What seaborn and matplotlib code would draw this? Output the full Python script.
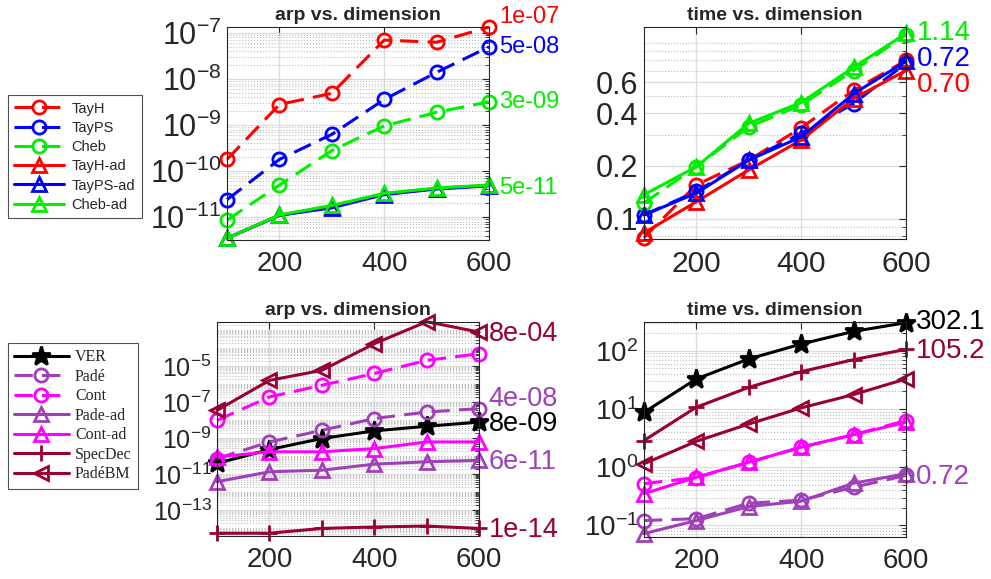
import numpy as np
import matplotlib
matplotlib.use("Agg")
import matplotlib.pyplot as plt
import matplotlib.ticker as mticker
import seaborn as sns

# -------------------------------------------------------
# data
# -------------------------------------------------------

dims = [100, 200, 300, 400, 500, 600]

# top row: Taylor / Chebyshev methods
arp_tayh = [1.8e-10, 2.8e-9, 4.9e-9, 7.0e-8, 6.3e-8, 1.35e-7]
arp_tayps = [2.4e-11, 1.8e-10, 6.3e-10, 3.6e-9, 1.4e-8, 5.0e-8]
arp_cheb = [8.7e-12, 5.0e-11, 2.8e-10, 9.6e-10, 1.9e-9, 3.2e-9]
arp_tayh_ad = [3.5e-12, 1.1e-11, 1.7e-11, 3.2e-11, 4.2e-11, 4.9e-11]
arp_tayps_ad = [3.5e-12, 1.1e-11, 1.6e-11, 3.1e-11, 4.1e-11, 4.8e-11]
arp_cheb_ad = [3.5e-12, 1.12e-11, 1.8e-11, 3.3e-11, 4.3e-11, 5.0e-11]

time_tayh = [0.078, 0.156, 0.216, 0.33, 0.54, 0.80]
time_tayps = [0.105, 0.143, 0.216, 0.307, 0.454, 0.77]
time_cheb = [0.123, 0.198, 0.334, 0.445, 0.70, 1.12]
time_tayh_ad = [0.083, 0.125, 0.19, 0.281, 0.485, 0.70]
time_tayps_ad = [0.105, 0.14, 0.216, 0.293, 0.516, 0.79]
time_cheb_ad = [0.137, 0.198, 0.35, 0.46, 0.73, 1.14]

# bottom row: rational / other methods
arp_ver = [4.1e-11, 2.4e-10, 9.8e-10, 2.6e-9, 4.7e-9, 8.0e-9]
arp_pade = [7.6e-11, 6.3e-10, 2.8e-9, 1.26e-8, 2.9e-8, 4.5e-8]
arp_cont = [1.0e-8, 2.0e-7, 8.9e-7, 4.0e-6, 2.15e-5, 5.0e-5]
arp_pade_ad = [3.9e-12, 1.4e-11, 1.7e-11, 3.7e-11, 5.0e-11, 6.0e-11]
arp_cont_ad = [9.3e-11, 1.8e-10, 1.8e-10, 2.7e-10, 6.3e-10, 6.3e-10]
arp_specdec = [5.4e-15, 5.4e-15, 1.0e-14, 1.2e-14, 1.35e-14, 1.0e-14]
arp_padebm = [3.6e-8, 1.66e-6, 6.0e-6, 1.8e-4, 3.0e-3, 8.0e-4]

time_ver = [8.7, 32.7, 72, 130, 214, 302.1]
time_pade = [0.121, 0.13, 0.24, 0.27, 0.45, 0.72]
time_cont = [0.52, 0.66, 1.21, 2.19, 3.6, 6.3]
time_pade_ad = [0.072, 0.121, 0.21, 0.26, 0.53, 0.77]
time_cont_ad = [0.35, 0.67, 1.21, 2.2, 3.6, 5.9]
time_specdec = [2.86, 10.7, 23.4, 43.6, 70, 105.2]
time_padebm = [1.14, 2.78, 5.5, 10.4, 17.6, 32.7]

# end-of-line annotations (text, where it sits on the y axis)
tl_labels = ["1e-07", "5e-08", "3e-09", "5e-11"]
tl_label_pos = [2.2e-7, 5.0e-8, 3.2e-9, 4.4e-11]
tr_labels = ["1.14", "0.72", "0.70"]
tr_label_pos = [1.15, 0.82, 0.58]
bl_labels = ["8e-04", "4e-08", "8e-09", "6e-11", "1e-14"]
bl_label_pos = [6.5e-4, 1.6e-7, 6.6e-9, 5.0e-11, 8.1e-15]
br_labels = ["302.1", "105.2", "0.72"]
br_label_pos = [305, 100, 0.67]

# -------------------------------------------------------
# style
# -------------------------------------------------------

sns.set_style("white")
plt.rcParams["font.family"] = ["Liberation Sans", "DejaVu Sans"]
plt.rcParams["mathtext.fontset"] = "custom"
plt.rcParams["mathtext.rm"] = "Liberation Sans"
plt.rcParams["mathtext.default"] = "regular"

RED, BLUE, GREEN = "#ff0000", "#0000ff", "#00ee00"
PURPLE, MAGENTA, WINE, BLACK = "#a040b8", "#ff00ff", "#990033", "#000000"
AXC = "#262626"
DASH = (0, (6, 3))

fig = plt.figure(figsize=(9.91, 5.79), dpi=100)
ax_tl = fig.add_axes([0.2291, 0.5855, 0.2644, 0.3679])
ax_tr = fig.add_axes([0.6498, 0.5872, 0.2644, 0.3661])
ax_bl = fig.add_axes([0.2190, 0.0743, 0.2644, 0.3696])
ax_br = fig.add_axes([0.6498, 0.0725, 0.2644, 0.3713])


def draw(ax, y, color, marker, ls, label, ms=9.5, fill="none"):
    sns.lineplot(x=dims, y=y, ax=ax, color=color, marker=marker, linestyle=ls,
                 linewidth=2.2, markersize=ms, markerfacecolor=fill,
                 markeredgecolor=color, markeredgewidth=2.0, errorbar=None,
                 legend=False, clip_on=False)
    line = ax.lines[-1]
    line.set_label(label)
    return line


def style_axes(ax, title, ylim, ysize, xsize, major=None):
    ax.set_yscale("log")
    ax.set_xlim(100, 600)
    ax.set_ylim(*ylim)
    ax.set_xticks([200, 400, 600])
    if major is not None:
        ax.yaxis.set_major_locator(mticker.FixedLocator(major))
    ax.yaxis.set_minor_locator(mticker.LogLocator(base=10, subs=np.arange(1, 10), numticks=100))
    ax.yaxis.set_minor_formatter(mticker.NullFormatter())
    ax.grid(which="major", color="#dcdcdc", linewidth=0.9, linestyle="-")
    ax.grid(which="minor", axis="y", color="#bdbdbd", linewidth=0.8, linestyle=":")
    ax.set_axisbelow(True)
    ax.tick_params(which="both", direction="in", right=True, top=True, colors=AXC)
    ax.tick_params(which="major", length=5, width=0.8)
    ax.tick_params(which="minor", length=3, width=0.6)
    ax.tick_params(axis="y", labelsize=ysize, pad=4)
    ax.tick_params(axis="x", labelsize=xsize, pad=8)
    for sp in ax.spines.values():
        sp.set_color(AXC)
        sp.set_linewidth(0.8)
    ax.set_xlabel("")
    ax.set_ylabel("")
    ax.set_title(title, fontsize=14, fontweight="bold", pad=5)


def annotate(ax, texts, positions, colors, size, dx):
    for txt, pos, c in zip(texts, positions, colors):
        ax.annotate(txt, xy=(dims[-1], pos), xytext=(dx, 0), textcoords="offset points",
                    va="center", ha="left", color=c, fontsize=size, annotation_clip=False)


# -------------------------------------------------------
# top left: arp
# -------------------------------------------------------

top_handles = [
    draw(ax_tl, arp_tayh, RED, "o", DASH, "TayH"),
    draw(ax_tl, arp_tayps, BLUE, "o", DASH, "TayPS"),
    draw(ax_tl, arp_cheb, GREEN, "o", DASH, "Cheb"),
    draw(ax_tl, arp_tayh_ad, RED, "^", "-", "TayH-ad"),
    draw(ax_tl, arp_tayps_ad, BLUE, "^", "-", "TayPS-ad"),
    draw(ax_tl, arp_cheb_ad, GREEN, "^", "-", "Cheb-ad"),
]
style_axes(ax_tl, "arp vs. dimension", (3.2e-12, 1.35e-7), 22, 20,
           major=[1e-11, 1e-10, 1e-9, 1e-8, 1e-7])
annotate(ax_tl, tl_labels, tl_label_pos, [RED, BLUE, GREEN, GREEN], 17, 7)

# -------------------------------------------------------
# top right: time
# -------------------------------------------------------

draw(ax_tr, time_tayh, RED, "o", DASH, "TayH")
draw(ax_tr, time_tayps, BLUE, "o", DASH, "TayPS")
draw(ax_tr, time_cheb, GREEN, "o", DASH, "Cheb")
draw(ax_tr, time_tayh_ad, RED, "^", "-", "TayH-ad")
draw(ax_tr, time_tayps_ad, BLUE, "^", "-", "TayPS-ad")
draw(ax_tr, time_cheb_ad, GREEN, "^", "-", "Cheb-ad")
style_axes(ax_tr, "time vs. dimension", (0.0766, 1.24), 22, 21.5,
           major=[0.1, 0.2, 0.4, 0.6])
ax_tr.yaxis.set_major_formatter(mticker.FixedFormatter(["0.1", "0.2", "0.4", "0.6"]))
annotate(ax_tr, tr_labels, tr_label_pos, [GREEN, BLUE, RED], 20, 8)

# -------------------------------------------------------
# bottom left: arp
# -------------------------------------------------------

bottom_handles = [
    draw(ax_bl, arp_ver, BLACK, "*", "-", "VER", ms=14, fill=BLACK),
    draw(ax_bl, arp_pade, PURPLE, "o", DASH, "Padé"),
    draw(ax_bl, arp_cont, MAGENTA, "o", DASH, "Cont"),
    draw(ax_bl, arp_pade_ad, PURPLE, "^", "-", "Pade-ad"),
    draw(ax_bl, arp_cont_ad, MAGENTA, "^", "-", "Cont-ad"),
    draw(ax_bl, arp_specdec, WINE, "+", "-", "SpecDec", ms=12),
    draw(ax_bl, arp_padebm, WINE, "<", "-", "PadéBM"),
]
style_axes(ax_bl, "arp vs. dimension", (3.8e-15, 2.9e-3), 18, 20,
           major=[1e-13, 1e-11, 1e-9, 1e-7, 1e-5])
annotate(ax_bl, bl_labels, bl_label_pos, [WINE, PURPLE, BLACK, PURPLE, WINE], 19.5, 7)

# -------------------------------------------------------
# bottom right: time
# -------------------------------------------------------

draw(ax_br, time_ver, BLACK, "*", "-", "VER", ms=14, fill=BLACK)
draw(ax_br, time_pade, PURPLE, "o", DASH, "Padé")
draw(ax_br, time_cont, MAGENTA, "o", DASH, "Cont")
draw(ax_br, time_pade_ad, PURPLE, "^", "-", "Pade-ad")
draw(ax_br, time_cont_ad, MAGENTA, "^", "-", "Cont-ad")
draw(ax_br, time_specdec, WINE, "+", "-", "SpecDec", ms=12)
draw(ax_br, time_padebm, WINE, "<", "-", "PadéBM")
style_axes(ax_br, "time vs. dimension", (0.063, 310), 20, 20,
           major=[1e-1, 1e0, 1e1, 1e2])
annotate(ax_br, br_labels, br_label_pos, [BLACK, WINE, PURPLE], 20, 7)

# -------------------------------------------------------
# legends
# -------------------------------------------------------

leg_top = fig.legend(handles=top_handles, labels=[h.get_label() for h in top_handles],
                     loc="upper left", bbox_to_anchor=(0.008, 0.836),
                     fontsize=10.5, handlelength=3.4, handletextpad=0.5,
                     labelspacing=0.36, borderpad=0.45, borderaxespad=0,
                     fancybox=False, frameon=True)
leg_top.get_frame().set_edgecolor(AXC)
leg_top.get_frame().set_linewidth(0.8)

leg_bot = fig.legend(handles=bottom_handles, labels=[h.get_label() for h in bottom_handles],
                     loc="upper left", bbox_to_anchor=(0.008, 0.408),
                     prop={"family": "Liberation Serif", "size": 11.5},
                     handlelength=3.4, handletextpad=0.4,
                     labelspacing=0.22, borderpad=0.4, borderaxespad=0,
                     fancybox=False, frameon=True)
leg_bot.get_frame().set_edgecolor(AXC)
leg_bot.get_frame().set_linewidth(0.8)

fig.savefig("out.png", dpi=100)
